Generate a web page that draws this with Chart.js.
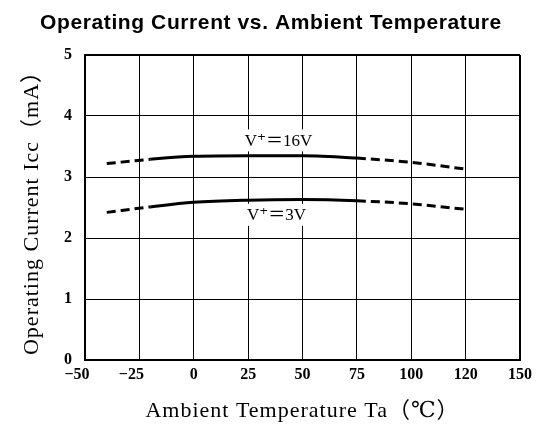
<!DOCTYPE html>
<html>
<head>
<meta charset="utf-8">
<script src="https://cdn.jsdelivr.net/npm/chart.js@4/dist/chart.umd.min.js"></script>
<style>
  html, body { margin: 0; padding: 0; background: #fff; }
  #wrap { width: 537px; height: 428px; position: relative; }
</style>
</head>
<body>
<div id="wrap"><canvas id="c" width="537" height="428"></canvas></div>
<script>
// ---- data ----
// x positions on the temperature axis; the last gridline is printed "120" in the original
const temperatures = [-40, -20, 0, 25, 50, 75, 100, 125];
const icc16V = [3.22, 3.29, 3.34, 3.35, 3.35, 3.31, 3.24, 3.13];
const icc3V  = [2.42, 2.51, 2.585, 2.62, 2.63, 2.61, 2.56, 2.47];
const xTickLabels = ['\u221250\u2002\u2002', '\u221225\u2002\u2002', '0', '25', '50', '75', '100', '120', '150'];
const yTickLabels = ['0', '1', '2', '3', '4', '5'];
const seriesNames = ['V\u207A\uFF1D16V', 'V\u207A\uFF1D3V'];
const chartTitle = 'Operating Current vs. Ambient Temperature';
const xTitle = 'Ambient Temperature Ta\uFF08\u2103\uFF09';
const yTitle = 'Operating Current Icc\uFF08mA\uFF09';
const solidFrom = -20, solidTo = 75;

// label placement (style/position, not data)
const labelPlaces = [{ x: 39, y: 3.6 }, { x: 38, y: 2.38 }];

const serif = '"Liberation Serif", "Times New Roman", "DejaVu Serif", "Noto Sans CJK JP", serif';

function toPoints(xs, ys) { return xs.map((x, i) => ({ x: x, y: ys[i] })); }

const segStyle = {
  borderDash: ctx => {
    const a = ctx.p0.parsed.x, b = ctx.p1.parsed.x;
    return (b <= solidFrom || a >= solidTo) ? [9, 5] : undefined;
  }
};

const titlePlugin = {
  id: 'drawTitle',
  beforeDraw(chart) {
    // wider letter spacing for the axis titles, as in the original print
    ['x', 'y'].forEach(id => {
      const s = chart.scales[id];
      if (s && !s._spacedTitle) {
        const orig = s.drawTitle;
        s.drawTitle = function () {
          const c = this.ctx;
          c.save();
          if ('letterSpacing' in c) c.letterSpacing = '1px';
          orig.apply(this, arguments);
          c.restore();
        };
        s._spacedTitle = true;
      }
    });
  },
  afterDraw(chart) {
    const ctx = chart.ctx;
    ctx.save();
    ctx.font = 'bold 21px "Liberation Sans", Arial, sans-serif';
    if ('letterSpacing' in ctx) ctx.letterSpacing = '0.6px';
    ctx.fillStyle = '#000';
    ctx.textAlign = 'center';
    ctx.textBaseline = 'alphabetic';
    ctx.fillText(chartTitle, 271, 29);
    ctx.restore();
  }
};

const labelPlugin = {
  id: 'seriesLabels',
  afterDatasetsDraw(chart) {
    const ctx = chart.ctx;
    const xs = chart.scales.x, ys = chart.scales.y;
    ctx.save();
    ctx.font = '17px ' + serif;
    ctx.textAlign = 'center';
    ctx.textBaseline = 'middle';
    seriesNames.forEach((name, i) => {
      const px = xs.getPixelForValue(labelPlaces[i].x);
      const py = ys.getPixelForValue(labelPlaces[i].y);
      const w = ctx.measureText(name).width;
      ctx.fillStyle = '#fff';
      ctx.fillRect(px - w / 2 - 3, py - 11, w + 6, 22);
      ctx.fillStyle = '#000';
      ctx.fillText(name, px, py + 1);
    });
    ctx.restore();
  }
};

new Chart(document.getElementById('c'), {
  type: 'line',
  data: {
    datasets: [
      {
        label: seriesNames[0],
        data: toPoints(temperatures, icc16V),
        borderColor: '#000',
        borderWidth: 3,
        pointRadius: 0,
        cubicInterpolationMode: 'monotone',
        fill: false,
        segment: segStyle
      },
      {
        label: seriesNames[1],
        data: toPoints(temperatures, icc3V),
        borderColor: '#000',
        borderWidth: 3,
        pointRadius: 0,
        cubicInterpolationMode: 'monotone',
        fill: false,
        segment: segStyle
      }
    ]
  },
  options: {
    responsive: false,
    animation: false,
    devicePixelRatio: 1,
    layout: { padding: { top: 55, right: 16, left: 0, bottom: 0 } },
    plugins: {
      legend: { display: false },
      title: { display: false },
      tooltip: { enabled: false }
    },
    scales: {
      x: {
        type: 'linear',
        min: -50, max: 150,
        afterFit(scale) { scale.height = 68; },
        ticks: {
          stepSize: 25,
          autoSkip: false,
          maxRotation: 0,
          padding: 5,
          color: '#000',
          font: { family: serif, size: 16, weight: 'bold' },
          callback: (v, i) => xTickLabels[i]
        },
        grid: {
          color: '#000',
          drawTicks: false,
          lineWidth: c => (c.tick && c.tick.value === 150 ? 2 : 1)
        },
        border: { color: '#000', width: 2 },
        title: {
          display: true,
          text: xTitle,
          color: '#000',
          font: { family: serif, size: 22 },
          padding: { top: 0, bottom: 4 }
        }
      },
      y: {
        type: 'linear',
        min: 0, max: 5,
        afterFit(scale) { scale.width = 85; },
        ticks: {
          stepSize: 1,
          padding: 13,
          color: '#000',
          font: { family: serif, size: 16, weight: 'bold' },
          callback: (v, i) => yTickLabels[i]
        },
        grid: {
          color: '#000',
          drawTicks: false,
          lineWidth: c => (c.tick && c.tick.value === 5 ? 2 : 1)
        },
        border: { color: '#000', width: 2 },
        title: {
          display: true,
          text: yTitle,
          color: '#000',
          font: { family: serif, size: 22 },
          padding: { top: 19, bottom: 0 }
        }
      }
    }
  },
  plugins: [titlePlugin, labelPlugin]
});
</script>
</body>
</html>
